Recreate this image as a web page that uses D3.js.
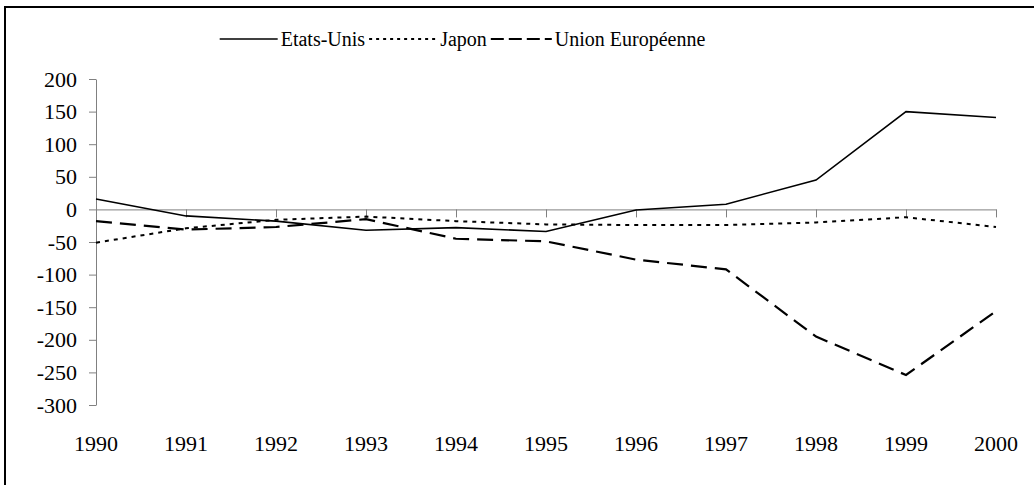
<!DOCTYPE html>
<html><head><meta charset="utf-8"><script src="https://cdn.jsdelivr.net/npm/d3@7"></script>
<style>
@font-face { font-family: "ChartSerif"; src: local("Liberation Serif"), local("LiberationSerif"), local("Times New Roman"), local("Tinos"); }
</style>
</head>
<body style="margin:0">
<svg id="chart" width="1034" height="485"></svg>
<script>
const years = ["1990","1991","1992","1993","1994","1995","1996","1997","1998","1999","2000"];
const etatsUnis = [16, -10, -18, -32, -28, -34, -1, 8, 45, 150, 141];
const japon = [-51, -29, -16, -11, -18, -23, -24, -24, -20, -12, -27];
const unionEuropeenne = [-18, -31, -27, -15, -45, -49, -77, -92, -195, -254, -156];
const yTicks = [200, 150, 100, 50, 0, -50, -100, -150, -200, -250, -300];
const seriesNames = ["Etats-Unis", "Japon", "Union Européenne"];

const FONT = '"Liberation Serif", "Times New Roman", "ChartSerif", serif';
const svg = d3.select("#chart");

// frame
svg.append("rect").attr("x", 5).attr("y", 7).attr("width", 1100).attr("height", 600)
  .attr("fill", "none").attr("stroke", "#000").attr("stroke-width", 2);

const x = d3.scalePoint().domain(years).range([96, 996]);
const y = d3.scaleLinear().domain([-300, 200]).range([405, 79]);

// y axis
const yAxis = svg.append("g").attr("transform", "translate(96,0)")
  .call(d3.axisLeft(y).tickValues(yTicks).tickFormat(d => String(d)).tickSize(7).tickSizeOuter(0).tickPadding(12));
yAxis.attr("font-family", null).attr("font-size", null);
yAxis.select(".domain").attr("stroke", "#808080");
yAxis.selectAll(".tick line").attr("stroke", "#808080");
yAxis.selectAll(".tick text").style("font-family", FONT).style("font-size", "22px").attr("fill", "#000");

// x axis at zero
const xAxis = svg.append("g").attr("transform", `translate(0,${y(0)})`)
  .call(d3.axisBottom(x).tickSize(8).tickSizeOuter(0).tickFormat(""));
xAxis.select(".domain").attr("stroke", "#808080");
xAxis.selectAll(".tick line").attr("stroke", "#808080");

// x labels at bottom
svg.append("g").selectAll("text").data(years).join("text")
  .attr("x", d => x(d)).attr("y", 451)
  .attr("text-anchor", "middle")
  .style("font-family", FONT).style("font-size", "22px")
  .text(d => d);

const series = [
  {values: etatsUnis, dash: null, width: 1.6},
  {values: japon, dash: "4,5", width: 2},
  {values: unionEuropeenne, dash: "16,8", width: 2.2}
];

const line = d3.line().x((d, i) => x(years[i])).y(d => y(d));
series.forEach(s => {
  svg.append("path").datum(s.values).attr("d", line)
    .attr("fill", "none").attr("stroke", "#000").attr("stroke-width", s.width)
    .attr("stroke-dasharray", s.dash);
});

// legend, laid out from measured text widths, centred like the reference
const legendStyles = [
  {len: 58, dash: null, width: 1.6},
  {len: 68, dash: "3,4", width: 2},
  {len: 61, dash: "13,5", width: 2.2}
];
const lg = svg.append("g");
const items = legendStyles.map((st, i) => {
  const g = lg.append("g");
  const ln = g.append("line").attr("x1", 0).attr("x2", st.len).attr("y1", 39).attr("y2", 39)
    .attr("stroke", "#000").attr("stroke-width", st.width).attr("stroke-dasharray", st.dash);
  const t = g.append("text").attr("x", st.len + 3).attr("y", 46)
    .style("font-family", FONT).style("font-size", "20px").text(seriesNames[i]);
  const w = st.len + 3 + t.node().getComputedTextLength();
  return {g, w};
});
const gap = 4;
const total = d3.sum(items, d => d.w) + gap * (items.length - 1);
let cx = 462.5 - total / 2;
items.forEach(it => { it.g.attr("transform", `translate(${cx},0)`); cx += it.w + gap; });
</script>
</body>
</html>
